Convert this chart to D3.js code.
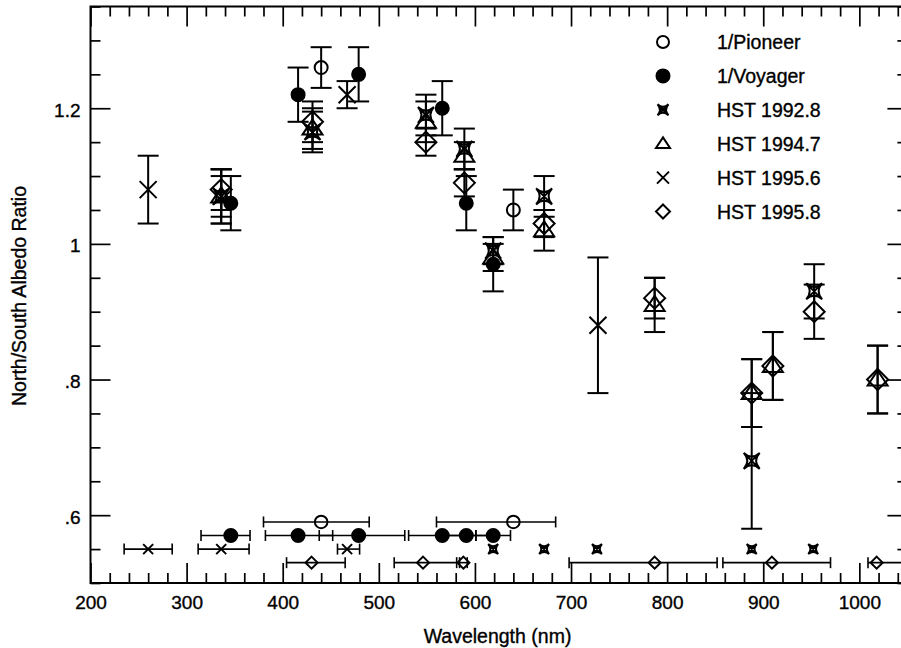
<!DOCTYPE html>
<html>
<head>
<meta charset="utf-8">
<script src="https://cdn.jsdelivr.net/npm/d3@7/dist/d3.min.js"></script>
<style>
  body { margin: 0; background: #fff; }
  svg { display: block; font-family: "Liberation Sans", Arial, Helvetica, sans-serif; }
  svg text { stroke: #000; stroke-width: 0.35px; }
</style>
</head>
<body>
<svg id="chart" width="901" height="648"></svg>
<script>
// Wavelength (nm), North/South albedo ratio and error
var pioneerNm = [440, 640],
    pioneerRatio = [1.26, 1.05],
    pioneerErr = [0.03, 0.03];

var voyagerNm = [346, 416, 479, 566, 591, 619],
    voyagerRatio = [1.06, 1.22, 1.25, 1.20, 1.06, 0.97],
    voyagerErr = [0.04, 0.04, 0.04, 0.04, 0.04, 0.04];

var hst1992Nm = [336, 431, 549, 589, 619, 672, 888, 953],
    hst1992Ratio = [1.07, 1.165, 1.19, 1.14, 0.99, 1.07, 0.68, 0.93],
    hst1992Err = [0.04, 0.03, 0.03, 0.03, 0.02, 0.03, 0.10, 0.04];

var hst1994Nm = [336, 431, 549, 589, 619, 672, 787, 888, 910, 1019],
    hst1994Ratio = [1.07, 1.17, 1.18, 1.13, 0.98, 1.02, 0.91, 0.78, 0.82, 0.80],
    hst1994Err = [0.03, 0.03, 0.03, 0.02, 0.02, 0.03, 0.04, 0.05, 0.05, 0.05];

var hst1995aNm = [260, 336, 467, 728],
    hst1995aRatio = [1.08, 1.07, 1.22, 0.88],
    hst1995aErr = [0.05, 0.04, 0.02, 0.10];

var hst1995bNm = [336, 431, 549, 589, 672, 787, 888, 910, 953, 1019],
    hst1995bRatio = [1.08, 1.18, 1.15, 1.09, 1.03, 0.92, 0.78, 0.82, 0.90, 0.80],
    hst1995bErr = [0.03, 0.03, 0.02, 0.02, 0.02, 0.03, 0.05, 0.05, 0.04, 0.05];

// filter passbands drawn along the bottom of the plot
var pioneerBandRow = 0.59,
    pioneerBandLo = [380, 560],
    pioneerBandHi = [490, 684];

var voyagerBandRow = 0.57,
    voyagerBandLo = [315, 382, 438, 531, 566, 601],
    voyagerBandHi = [366, 452, 527, 601, 617, 637];

var hstWideRow = 0.55,
    hstWideNm = [260, 336, 467],
    hstWideLo = [235, 312, 457],
    hstWideHi = [285, 365, 480];

var hstNarrowNm = [619, 672, 727, 888, 952];

var hstBroadRow = 0.53,
    hstBroadNm = [430, 546, 588, 787, 909, 1018],
    hstBroadLo = [404, 516, 584, 698, 858, 1009],
    hstBroadHi = [465, 581, 592, 852, 970, 1050];

var legendLabels = ['1/Pioneer', '1/Voyager', 'HST 1992.8', 'HST 1994.7', 'HST 1995.6', 'HST 1995.8'],
    legendSymbols = ['openCircle', 'filledCircle', 'star', 'triangle', 'cross', 'diamond'];

var xMajor = d3.range(200, 1001, 100),
    yMajor = [0.6, 0.8, 1.0, 1.2];

var svg = d3.select('#chart'),
    plotL = 90.5, plotR = 907.4, plotT = 6.5, plotB = 583;

var x = d3.scaleLinear().domain([200, 1050]).range([plotL, plotR]),
    y = d3.scaleLinear().domain([0.5, 1.35]).range([plotB, plotT]);

var xMinor = d3.range(220, 1050, 20).filter(function(d) { return d % 100 !== 0; }),
    yMinor = d3.range(0, 18).map(function(i) { return +(0.5 + i * 0.05).toFixed(2); })
      .filter(function(d) { return yMajor.indexOf(d) < 0; });

function yFormat(d) {
  return d === 1 ? '1' : d3.format('.1f')(d).replace(/^0/, '');
}

// ---- axes: ticks point inwards on all four sides
function styleAxis(g) {
  g.select('.domain').remove();
  g.selectAll('.tick line').attr('stroke', '#000').attr('stroke-width', 1.7);
  g.selectAll('.tick text').attr('fill', '#000').style('font-size', '19px');
}

svg.append('g')
  .attr('transform', 'translate(0,' + plotB + ')')
  .call(d3.axisBottom(x).tickValues(xMajor).tickSize(-20).tickPadding(13).tickFormat(d3.format('d')))
  .call(styleAxis);
svg.append('g')
  .attr('transform', 'translate(0,' + plotB + ')')
  .call(d3.axisBottom(x).tickValues(xMinor).tickSize(-10).tickFormat(''))
  .call(styleAxis);
svg.append('g')
  .attr('transform', 'translate(0,' + plotT + ')')
  .call(d3.axisTop(x).tickValues(xMajor).tickSize(-20).tickFormat(''))
  .call(styleAxis);
svg.append('g')
  .attr('transform', 'translate(0,' + plotT + ')')
  .call(d3.axisTop(x).tickValues(xMinor).tickSize(-10).tickFormat(''))
  .call(styleAxis);

var yAxisG = svg.append('g')
  .attr('transform', 'translate(' + plotL + ',0)')
  .call(d3.axisLeft(y).tickValues(yMajor).tickSize(-20).tickPadding(10).tickFormat(yFormat))
  .call(styleAxis);
yAxisG.selectAll('.tick text').attr('dy', '0.42em');
svg.append('g')
  .attr('transform', 'translate(' + plotL + ',0)')
  .call(d3.axisLeft(y).tickValues(yMinor).tickSize(-10).tickFormat(''))
  .call(styleAxis);
svg.append('g')
  .attr('transform', 'translate(' + plotR + ',0)')
  .call(d3.axisRight(y).tickValues(yMajor).tickSize(-20).tickFormat(''))
  .call(styleAxis);
svg.append('g')
  .attr('transform', 'translate(' + plotR + ',0)')
  .call(d3.axisRight(y).tickValues(yMinor).tickSize(-10).tickFormat(''))
  .call(styleAxis);

svg.append('rect')
  .attr('x', plotL).attr('y', plotT)
  .attr('width', plotR - plotL).attr('height', plotB - plotT)
  .attr('fill', 'none').attr('stroke', '#000').attr('stroke-width', 2);

svg.append('text')
  .attr('x', 497.5).attr('y', 643)
  .attr('text-anchor', 'middle')
  .style('font-size', '19.5px')
  .text('Wavelength (nm)');
svg.append('text')
  .attr('transform', 'translate(26,296) rotate(-90)')
  .attr('text-anchor', 'middle')
  .style('font-size', '19.5px')
  .text('North/South Albedo Ratio');

// ---- markers
function marker(g, type, cx, cy, s) {
  var m;
  if (type === 'openCircle' || type === 'filledCircle') {
    m = g.append('circle').attr('cx', cx).attr('cy', cy).attr('r', s)
      .attr('fill', type === 'filledCircle' ? '#000' : 'none');
  } else {
    var p;
    if (type === 'cross') {
      p = 'M' + (-s) + ',' + (-s) + 'L' + s + ',' + s + 'M' + s + ',' + (-s) + 'L' + (-s) + ',' + s;
    } else if (type === 'diamond') {
      p = 'M0,' + (-s) + 'L' + s + ',0L0,' + s + 'L' + (-s) + ',0Z';
    } else if (type === 'triangle') {
      p = 'M0,' + (-s * 0.9) + 'L' + s + ',' + (s * 0.6) + 'L' + (-s) + ',' + (s * 0.6) + 'Z';
    } else {
      // concave four-point star with its diagonals
      var k = s * 0.1;
      p = 'M' + (-s) + ',' + (-s) + 'Q0,' + (-k) + ' ' + s + ',' + (-s) +
          'Q' + k + ',0 ' + s + ',' + s + 'Q0,' + k + ' ' + (-s) + ',' + s +
          'Q' + (-k) + ',0 ' + (-s) + ',' + (-s) + 'Z' +
          'M' + (-s) + ',' + (-s) + 'L' + s + ',' + s + 'M' + s + ',' + (-s) + 'L' + (-s) + ',' + s;
    }
    m = g.append('path').attr('d', p).attr('transform', 'translate(' + cx + ',' + cy + ')')
      .attr('fill', 'none');
  }
  m.attr('stroke', '#000').attr('stroke-width', 2);
}

var series = [
  { nm: pioneerNm, v: pioneerRatio, e: pioneerErr, sym: 'openCircle', size: 6.5 },
  { nm: voyagerNm, v: voyagerRatio, e: voyagerErr, sym: 'filledCircle', size: 6.5 },
  { nm: hst1992Nm, v: hst1992Ratio, e: hst1992Err, sym: 'star', size: 8 },
  { nm: hst1994Nm, v: hst1994Ratio, e: hst1994Err, sym: 'triangle', size: 10 },
  { nm: hst1995aNm, v: hst1995aRatio, e: hst1995aErr, sym: 'cross', size: 8.5 },
  { nm: hst1995bNm, v: hst1995bRatio, e: hst1995bErr, sym: 'diamond', size: 10.5 }
];

var errG = svg.append('g').attr('stroke', '#000').attr('stroke-width', 2),
    markG = svg.append('g');

series.forEach(function(s) {
  s.nm.forEach(function(nm, i) {
    var cx = x(nm), y0 = y(s.v[i] - s.e[i]), y1 = y(s.v[i] + s.e[i]);
    errG.append('line').attr('x1', cx).attr('x2', cx).attr('y1', y0).attr('y2', y1);
    [y0, y1].forEach(function(yy) {
      errG.append('line').attr('x1', cx - 10.5).attr('x2', cx + 10.5).attr('y1', yy).attr('y2', yy);
    });
    marker(markG, s.sym, cx, y(s.v[i]), s.size);
  });
});

// ---- passbands
var bandG = svg.append('g').attr('stroke', '#000').attr('stroke-width', 1.6);
function band(row, lo, hi, centers, sym, size) {
  var cy = y(row);
  lo.forEach(function(l, i) {
    bandG.append('line').attr('x1', x(l)).attr('x2', x(hi[i])).attr('y1', cy).attr('y2', cy);
    [l, hi[i]].forEach(function(w) {
      bandG.append('line').attr('x1', x(w)).attr('x2', x(w)).attr('y1', cy - 5.5).attr('y2', cy + 5.5);
    });
  });
  centers.forEach(function(c) { marker(markG, sym, x(c), cy, size); });
}
band(pioneerBandRow, pioneerBandLo, pioneerBandHi, pioneerNm, 'openCircle', 6.3);
band(voyagerBandRow, voyagerBandLo, voyagerBandHi, voyagerNm, 'filledCircle', 6.5);
band(hstWideRow, hstWideLo, hstWideHi, hstWideNm, 'cross', 5);
band(hstWideRow, [], [], hstNarrowNm, 'star', 5);
band(hstBroadRow, hstBroadLo, hstBroadHi, hstBroadNm, 'diamond', 6);

// ---- legend
var legendSizes = [6, 6.5, 5.5, 7, 6, 7];
legendLabels.forEach(function(label, i) {
  var ly = 42 + i * 33.9;
  marker(svg, legendSymbols[i], 663, ly, legendSizes[i]);
  svg.append('text')
    .attr('x', 717).attr('y', ly + 7)
    .style('font-size', '19.5px')
    .text(label);
});
</script>
</body>
</html>
